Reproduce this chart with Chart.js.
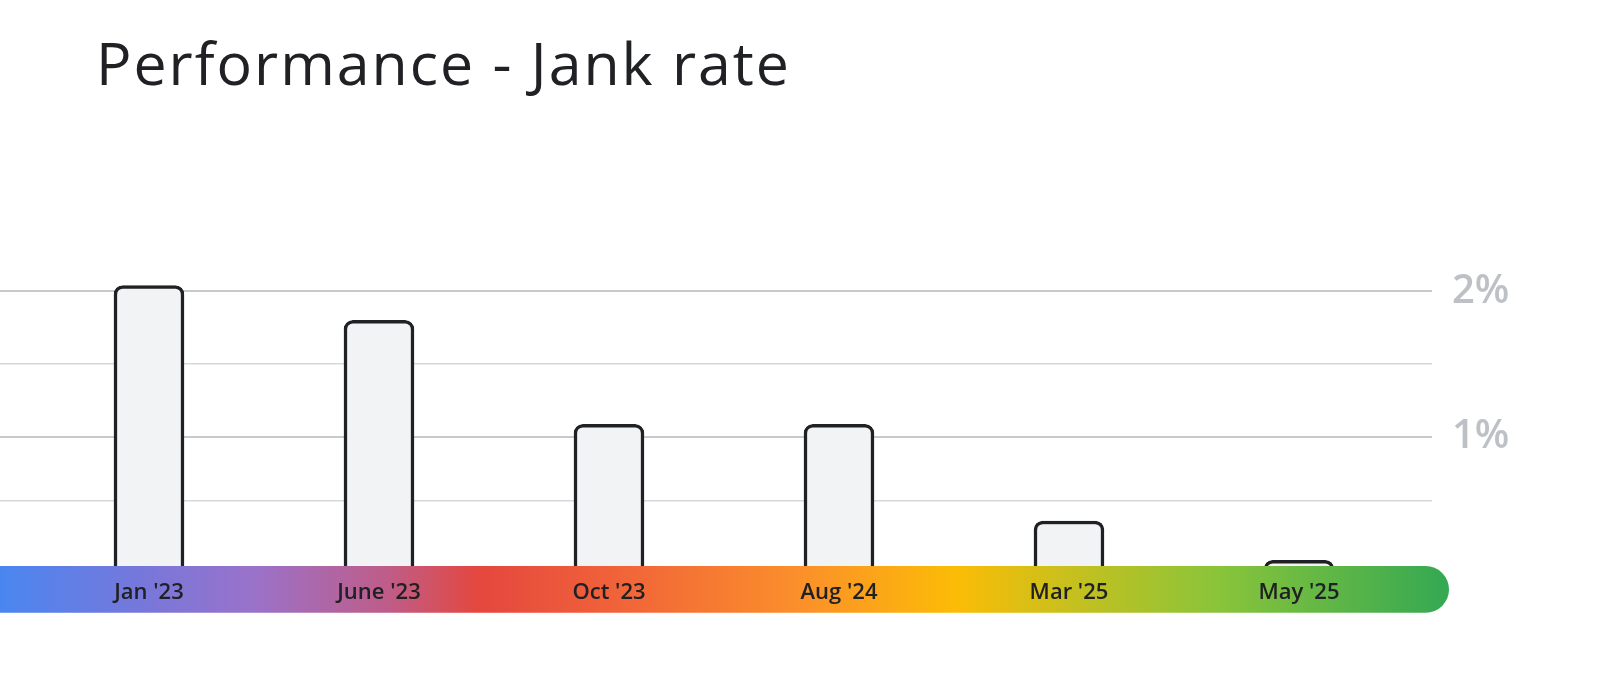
<!DOCTYPE html>
<html>
<head>
<meta charset="utf-8">
<script src="https://cdn.jsdelivr.net/npm/chart.js@4.4.1/dist/chart.umd.min.js"></script>
<style>
  html, body { margin: 0; padding: 0; background: #ffffff; }
  #wrap { position: relative; width: 1600px; height: 681px; overflow: hidden; }
  #title {
    position: absolute; left: 96px; top: 22px; margin: 0;
    font-family: "Open Sans", sans-serif; font-weight: 400; font-size: 59px;
    line-height: 80px; letter-spacing: 2px; color: #202124; white-space: nowrap;
  }
  canvas { position: absolute; left: 0; top: 0; }
</style>
</head>
<body>
<div id="wrap">
  <h1 id="title">Performance - Jank rate</h1>
  <canvas id="c" width="1600" height="681"></canvas>
</div>
<script>
// ---- data ----
const categories = ["Jan '23", "June '23", "Oct '23", "Aug '24", "Mar '25", "May '25"];
const jankRate = [2.04, 1.80, 1.085, 1.085, 0.42, 0.15];
const gridValues = [0.56, 1, 1.5, 2];
const yTickLabels = { 1: "1%", 2: "2%" };
const bandColors = ["#4a86f0", "#7877da", "#9a72ca", "#c05c86", "#e4473e", "#f0613a", "#fb8f2b", "#fbbc06", "#c6c01e", "#8ac43a", "#34a853"];
const bandStops  = [0, 0.10, 0.175, 0.27, 0.33, 0.42, 0.55, 0.66, 0.74, 0.84, 1];

const FONT = '"Open Sans", sans-serif';

const bandPlugin = {
  id: 'band',
  afterDatasetsDraw(chart) {
    const { ctx, chartArea } = chart;
    const top = chartArea.bottom - 16;
    const bottom = chartArea.bottom + 30.6;
    const right = chartArea.right + 17;
    const left = -10;
    const r = (bottom - top) / 2;
    const g = ctx.createLinearGradient(0, 0, right, 0);
    bandStops.forEach((s, i) => g.addColorStop(s, bandColors[i]));
    ctx.save();
    ctx.beginPath();
    ctx.moveTo(left, top);
    ctx.lineTo(right - r, top);
    ctx.arc(right - r, top + r, r, -Math.PI / 2, Math.PI / 2);
    ctx.lineTo(left, bottom);
    ctx.closePath();
    ctx.fillStyle = g;
    ctx.fill();
    ctx.restore();
  }
};

new Chart(document.getElementById('c'), {
  type: 'bar',
  data: {
    datasets: [{
      data: categories.map((c, i) => ({ x: i, y: jankRate[i] })),
      backgroundColor: '#f1f3f4',
      borderColor: '#202124',
      borderWidth: 3.5,
      borderRadius: { topLeft: 9, topRight: 9, bottomLeft: 0, bottomRight: 0 },
      borderSkipped: 'bottom',
      barThickness: 70
    }]
  },
  options: {
    responsive: false,
    animation: false,
    devicePixelRatio: 1,
    layout: { padding: { top: 145.9, bottom: 53.9, left: 0, right: 0 } },
    plugins: { legend: { display: false }, tooltip: { enabled: false }, title: { display: false } },
    scales: {
      x: {
        type: 'linear',
        position: 'bottom',
        offset: false,
        min: -0.6478,
        max: 5.5783,
        grid: { display: false, drawTicks: false, offset: false },
        border: { display: false },
        afterBuildTicks(scale) { scale.ticks = categories.map((c, i) => ({ value: i })); },
        afterFit(scale) { scale.height = 45; },
        ticks: {
          z: 1,
          padding: -3,
          autoSkip: false,
          maxRotation: 0,
          color: '#202124',
          font: { family: FONT, size: 22, weight: '600' },
          callback: (v) => categories[v]
        }
      },
      y: {
        type: 'linear',
        position: 'right',
        min: 0,
        max: 3,
        afterBuildTicks(scale) { scale.ticks = gridValues.map(v => ({ value: v })); },
        afterFit(scale) { scale.width = 168; },
        border: { display: false },
        grid: {
          drawTicks: false,
          color: (ctx) => (ctx.tick && yTickLabels[ctx.tick.value]) ? '#c8c9cc' : '#d6d7da',
          lineWidth: (ctx) => (ctx.tick && yTickLabels[ctx.tick.value]) ? 2 : 1.5
        },
        ticks: {
          padding: 20,
          color: '#bdc1c6',
          font: { family: FONT, size: 40, weight: '600' },
          callback: (v) => yTickLabels[v] || ''
        }
      }
    }
  },
  plugins: [bandPlugin]
});
</script>
</body>
</html>
